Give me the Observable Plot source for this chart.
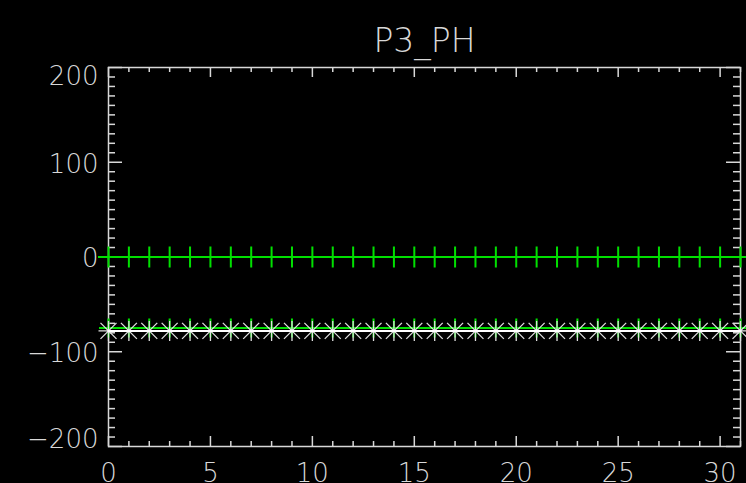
<!DOCTYPE html>
<html>
<head>
<meta charset="utf-8">
<script src="https://cdn.jsdelivr.net/npm/d3@7"></script>
<script src="https://cdn.jsdelivr.net/npm/@observablehq/plot@0.6"></script>
<style>
html, body { margin: 0; padding: 0; background: #000; }
#chart svg { display: block; }
</style>
</head>
<body>
<div id="chart"></div>
<script>
const title = "P3_PH";
const xValues = [0,1,2,3,4,5,6,7,8,9,10,11,12,13,14,15,16,17,18,19,20,21,22,23,24,25,26,27,28,29,30,31];
const seriesUpper = [0,0,0,0,0,0,0,0,0,0,0,0,0,0,0,0,0,0,0,0,0,0,0,0,0,0,0,0,0,0,0,0];
const seriesLowerGreen = [-75,-75,-75,-75,-75,-75,-75,-75,-75,-75,-75,-75,-75,-75,-75,-75,-75,-75,-75,-75,-75,-75,-75,-75,-75,-75,-75,-75,-75,-75,-75,-75];
const seriesLowerWhite = [-78,-78,-78,-78,-78,-78,-78,-78,-78,-78,-78,-78,-78,-78,-78,-78,-78,-78,-78,-78,-78,-78,-78,-78,-78,-78,-78,-78,-78,-78,-78,-78];
const xTicks = [0,5,10,15,20,25,30];
const xMinorTicks = [1,2,3,4,6,7,8,9,11,12,13,14,16,17,18,19,21,22,23,24,26,27,28,29,31];
const yTicks = [-100,0,100];
const yTopTick = [200];
const yBottomTick = [-200];
const yMinorTicks = [-190,-180,-170,-160,-150,-140,-130,-120,-110,-90,-80,-70,-60,-50,-40,-30,-20,-10,10,20,30,40,50,60,70,80,90,110,120,130,140,150,160,170,180,190];

const W = 746, H = 483;
const mL = 108, mR = 6, mT = 67, mB = 37;
const innerH = H - mT - mB, innerW = W - mL - mR;
const axisColor = "#d8d8d8";
const green = "#00e000";
const font = "DejaVu Sans, sans-serif";

// IDL-like plus symbol (psym=1)
const plusSymbol = {
  draw(ctx, size) {
    const r = Math.sqrt(size / Math.PI);
    ctx.moveTo(0, -r); ctx.lineTo(0, r);
    ctx.moveTo(-r, 0); ctx.lineTo(r, 0);
  }
};
// IDL-like asterisk symbol (psym=2)
const asteriskSymbol = {
  draw(ctx, size) {
    const r = Math.sqrt(size / Math.PI);
    const d = r * 0.8;
    ctx.moveTo(0, -r); ctx.lineTo(0, r);
    ctx.moveTo(-r, 0); ctx.lineTo(r, 0);
    ctx.moveTo(-d, -d); ctx.lineTo(d, d);
    ctx.moveTo(-d, d); ctx.lineTo(d, -d);
  }
};

const upper = xValues.map((x, i) => ({x, y: seriesUpper[i]}));
const lowerG = xValues.map((x, i) => ({x, y: seriesLowerGreen[i]}));
const lowerW = xValues.map((x, i) => ({x, y: seriesLowerWhite[i]}));

const tickLabel = {tickSize: 0, fontSize: 26, fill: axisColor, fontWeight: 300, label: null};

const chart = Plot.plot({
  width: W, height: H,
  marginLeft: mL, marginRight: mR, marginTop: mT, marginBottom: mB,
  style: {background: "#000", color: axisColor, fontFamily: font, overflow: "visible"},
  x: {domain: [0, 31], axis: null},
  y: {domain: [-200, 200], axis: null},
  marks: [
    // tick labels
    Plot.axisX(xTicks, {anchor: "bottom", tickPadding: 17, ...tickLabel}),
    Plot.axisY(yTicks, {anchor: "left", tickPadding: 10, dy: 2, ...tickLabel}),
    Plot.axisY(yTopTick, {anchor: "left", tickPadding: 10, dy: 9, ...tickLabel}),
    Plot.axisY(yBottomTick, {anchor: "left", tickPadding: 10, dy: -7, ...tickLabel}),
    // inward ticks, bottom & top
    Plot.tickX(xTicks, {x: d => d, insetTop: innerH - 10, stroke: axisColor, strokeWidth: 1.5}),
    Plot.tickX(xTicks, {x: d => d, insetBottom: innerH - 10, stroke: axisColor, strokeWidth: 1.5}),
    Plot.tickX(xMinorTicks, {x: d => d, insetTop: innerH - 5, stroke: axisColor, strokeWidth: 1.5}),
    Plot.tickX(xMinorTicks, {x: d => d, insetBottom: innerH - 5, stroke: axisColor, strokeWidth: 1.5}),
    // inward ticks, left & right
    Plot.tickY(yTicks.concat(yTopTick, yBottomTick), {y: d => d, insetRight: innerW - 14, stroke: axisColor, strokeWidth: 1.5}),
    Plot.tickY(yTicks.concat(yTopTick, yBottomTick), {y: d => d, insetLeft: innerW - 14, stroke: axisColor, strokeWidth: 1.5}),
    Plot.tickY(yMinorTicks, {y: d => d, insetRight: innerW - 7, stroke: axisColor, strokeWidth: 1.5}),
    Plot.tickY(yMinorTicks, {y: d => d, insetLeft: innerW - 7, stroke: axisColor, strokeWidth: 1.5}),
    Plot.frame({stroke: axisColor, strokeWidth: 1.5}),
    // green plus series (lower)
    Plot.lineY(lowerG, {x: "x", y: "y", stroke: green, strokeWidth: 2}),
    Plot.dot(lowerG, {x: "x", y: "y", symbol: plusSymbol, r: 9.5, stroke: green, strokeWidth: 2}),
    // white asterisk series, drawn over the green one
    Plot.dot(lowerW, {x: "x", y: "y", symbol: asteriskSymbol, r: 10, stroke: "#e0e0e0", strokeWidth: 1.3, fill: "none"}),
    Plot.lineY(lowerW, {x: "x", y: "y", stroke: "#fff", strokeWidth: 2}),
    // green plus series (upper)
    Plot.lineY(upper, {x: "x", y: "y", stroke: green, strokeWidth: 2}),
    Plot.dot(upper, {x: "x", y: "y", symbol: plusSymbol, r: 10.5, stroke: green, strokeWidth: 2}),
    // title
    Plot.text([title], {frameAnchor: "top", lineAnchor: "middle", dy: -26, fontSize: 33, fill: axisColor, fontWeight: 300, fontFamily: font})
  ]
});
document.getElementById("chart").appendChild(chart);
</script>
</body>
</html>
